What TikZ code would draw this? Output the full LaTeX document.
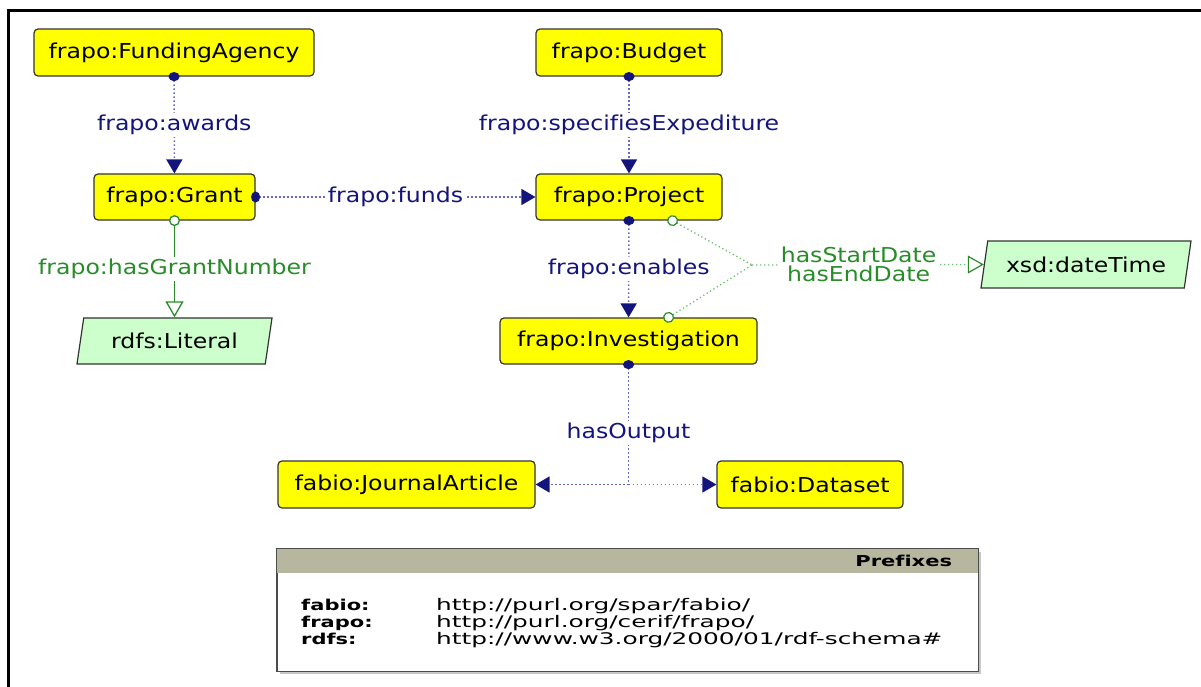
\documentclass[tikz,border=0pt]{standalone}
\usepackage{fontspec}
\usetikzlibrary{arrows.meta,shapes.geometric}
\newfontfamily\diafont[FakeStretch=1.15,Ligatures=NoCommon]{DejaVu Sans}
\newfontfamily\pfxfont[FakeStretch=1.55,Ligatures=NoCommon]{DejaVu Sans}
\newfontfamily\pfxbold[FakeStretch=1.4,Ligatures=NoCommon]{DejaVu Sans}
\definecolor{clsyellow}{RGB}{255,255,0}
\definecolor{litgreen}{RGB}{204,255,204}
\definecolor{propblue}{RGB}{20,20,125}
\definecolor{dotblue}{RGB}{105,105,200}
\definecolor{propgreen}{RGB}{40,140,40}
\definecolor{dotgreen}{RGB}{110,190,110}
\definecolor{pfxhead}{RGB}{183,183,160}
\tikzset{
  cls/.style={draw=black!80,line width=1.2pt,fill=clsyellow,rounded corners=4pt,minimum height=47pt,
    inner sep=0pt,font=\diafont\fontsize{20.5}{24}\selectfont},
  lit/.style={draw=black!80,line width=1.2pt,fill=litgreen,trapezium,trapezium left angle=67,
    trapezium right angle=113,trapezium stretches body,minimum height=46pt,
    inner sep=0pt,font=\diafont\fontsize{20.5}{24}\selectfont},
  bluelab/.style={fill=white,text=propblue,inner sep=2pt,font=\diafont\fontsize{20.5}{24}\selectfont},
  greenlab/.style={fill=white,text=propgreen,inner sep=2pt,align=center,
    font=\diafont\fontsize{20.5}{19}\selectfont},
  objline/.style={draw=dotblue,line width=1.5pt,dash pattern=on 1.5pt off 2.5pt},
  objprop/.style={objline,{Circle[color=propblue,length=9pt,width=11pt]}-{Triangle[color=propblue,length=14pt,width=16pt]},
    shorten <=-4.5pt},
  objstart/.style={objline,{Circle[color=propblue,length=9pt,width=11pt]}-,shorten <=-4.5pt},
  objend/.style={objline,-{Triangle[color=propblue,length=14pt,width=16pt]}},
  dataprop/.style={draw=propgreen,line width=1.3pt,
    {Circle[color=propgreen,fill=white,length=11pt,width=11pt]}-{Triangle[color=propgreen,fill=white,length=16pt,width=18pt]},
    shorten <=-5.5pt},
  dtstart/.style={draw=dotgreen,line width=1.3pt,dash pattern=on 1.3pt off 2.7pt,
    {Circle[color=propgreen,fill=white,length=11pt,width=11pt,line width=1.2pt]}-,shorten <=-5.5pt},
  dtend/.style={draw=dotgreen,line width=1.3pt,dash pattern=on 1.3pt off 2.7pt,
    -{Triangle[color=propgreen,fill=white,length=16pt,width=18pt,line width=1.2pt]}},
  pfxtext/.style={anchor=base west,inner sep=0pt,font=\pfxfont\fontsize{16}{17}\selectfont},
  pfxname/.style={anchor=base west,inner sep=0pt,font=\pfxbold\bfseries\fontsize{15}{17}\selectfont}
}
\begin{document}
\begin{tikzpicture}[x=1pt,y=-1pt]
  \useasboundingbox (0,0) rectangle (1201,687);
  \draw[line width=3pt] (1201,11) -- (8.5,11) -- (8.5,687);

  \node[cls,minimum width=280pt] (agency) at (174,52.5) {frapo:FundingAgency};
  \node[cls,minimum width=186pt] (budget) at (629,52.5) {frapo:Budget};
  \node[cls,minimum width=161pt,minimum height=46pt] (grant) at (174.5,197) {frapo:Grant};
  \node[cls,minimum width=186pt,minimum height=46pt] (project) at (629,197) {frapo:Project};
  \node[cls,minimum width=257pt,minimum height=46pt] (invest) at (628.5,341) {frapo:Investigation};
  \node[cls,minimum width=257pt] (article) at (406.5,484.5) {fabio:JournalArticle};
  \node[cls,minimum width=186pt] (dataset) at (810,484.5) {fabio:Dataset};
  \node[lit,minimum width=195pt] (literal) at (174.5,341) {rdfs:Literal};
  \node[lit,minimum width=210pt,minimum height=47pt] (datetime) at (1086,264.5) {xsd:dateTime};

  \draw[objprop] (agency) -- node[bluelab] {frapo:awards} (grant);
  \draw[objprop] (budget) -- node[bluelab] {frapo:specifiesExpediture} (project);
  \draw[objprop] (grant) -- node[bluelab] {frapo:funds} (project);
  \draw[objprop] (project) -- node[bluelab] {frapo:enables} (invest);
  \draw[dataprop] (grant.south) -- node[greenlab] {frapo:hasGrantNumber} (grant.south |- literal.north);

  \coordinate (dates) at (752,265);
  \coordinate (outputs) at (628.5,484.5);
  \draw[dtstart] ([xshift=-50pt]project.south east) -- (dates);
  \draw[dtstart] ([xshift=-89pt]invest.north east) -- (dates);
  \draw[dtend] (dates) -- node[greenlab,pos=.46] {hasStartDate\\hasEndDate} (datetime.west);

  \draw[objstart] (invest.south) -- node[bluelab,pos=.57] {hasOutput} (outputs);
  \draw[objend] (outputs) -- (article.east);
  \draw[objend] (outputs) -- (dataset.west);

  % prefixes
  \fill[black!22] (280,552) rectangle (981,674);
  \node[draw=black!70,fill=white,minimum width=701pt,minimum height=122pt,inner sep=0pt] (pfx) at (627.5,610) {};
  \fill[pfxhead] (pfx.north west) rectangle ([yshift=-24pt]pfx.north east);
  \draw[black!70,line width=1pt] (pfx.north west) rectangle (pfx.south east);
  \node[anchor=east,inner sep=0pt,font=\pfxbold\bfseries\fontsize{15}{17}\selectfont] (pfxhd) at ([xshift=-26pt,yshift=-12.5pt]pfx.north east) {Prefixes};
  \node[pfxname] (nfabio) at (301,610) {fabio:};
  \node[pfxname] (nfrapo) at (301,627) {frapo:};
  \node[pfxname] (nrdfs) at (301,644) {rdfs:};
  \node[pfxtext] (ufabio) at (436,610) {http://purl.org/spar/fabio/};
  \node[pfxtext] (ufrapo) at (436,627) {http://purl.org/cerif/frapo/};
  \node[pfxtext] (urdfs) at (436,644) {http://www.w3.org/2000/01/rdf-schema\#};
\end{tikzpicture}
\end{document}
